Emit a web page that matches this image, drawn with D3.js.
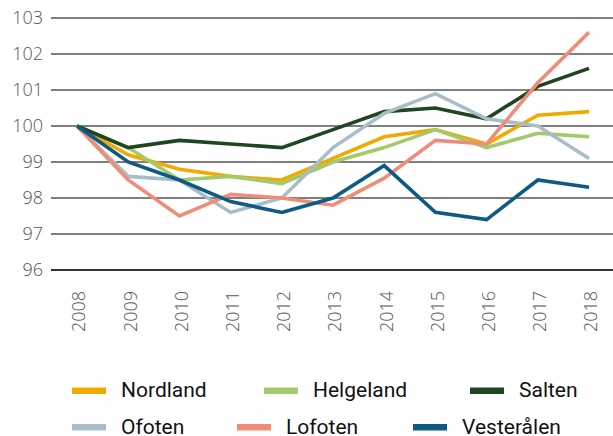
<!DOCTYPE html>
<html>
<head>
<meta charset="utf-8">
<script src="https://cdn.jsdelivr.net/npm/d3@7"></script>
<style>
  body { margin: 0; background: #fff; }
  svg { display: block; }
  .tick-label { font-family: "Open Sans", sans-serif; font-weight: 300; font-size: 18px; fill: #555; }
  .legend-label { font-family: Roboto, sans-serif; font-size: 21px; fill: #111; }
</style>
</head>
<body>
<svg width="613" height="436"></svg>
<script>
// years on the x axis
var years = [2008, 2009, 2010, 2011, 2012, 2013, 2014, 2015, 2016, 2017, 2018];
var yTicks = [96, 97, 98, 99, 100, 101, 102, 103];

// index values, 2008 = 100
var nordland   = [100, 99.2, 98.8, 98.6, 98.5, 99.1, 99.7, 99.9, 99.5, 100.3, 100.4];
var helgeland  = [100, 99.4, 98.5, 98.6, 98.4, 99.0, 99.4, 99.9, 99.4, 99.8, 99.7];
var salten     = [100, 99.4, 99.6, 99.5, 99.4, 99.9, 100.4, 100.5, 100.2, 101.1, 101.6];
var ofoten     = [100, 98.6, 98.5, 97.6, 98.0, 99.4, 100.35, 100.9, 100.2, 100.0, 99.1];
var lofoten    = [100, 98.5, 97.5, 98.1, 98.0, 97.8, 98.55, 99.6, 99.5, 101.2, 102.6];
var vesteralen = [100, 99.0, 98.5, 97.9, 97.6, 98.0, 98.9, 97.6, 97.4, 98.5, 98.3];

var seriesNames = ["Nordland", "Helgeland", "Salten", "Ofoten", "Lofoten", "Vesterålen"];
var seriesColors = ["#f2a900", "#a2c96a", "#1f4620", "#a9bdc8", "#f08c77", "#0d5a85"];
var seriesValues = [nordland, helgeland, salten, ofoten, lofoten, vesteralen];

var svg = d3.select("svg");

var x = d3.scaleLinear().domain([2008, 2018]).range([77, 589]);
var y = d3.scaleLinear().domain([96, 103]).range([270, 18]);

// grid lines
svg.append("g")
  .selectAll("line")
  .data(yTicks)
  .enter().append("line")
    .attr("x1", 51)
    .attr("x2", 613)
    .attr("y1", function(d) { return y(d); })
    .attr("y2", function(d) { return y(d); })
    .attr("stroke", function(d) { return d == 96 ? "#333" : "#555"; })
    .attr("stroke-width", function(d) { return d == 96 ? 2.2 : 1.3; });

// y labels
svg.append("g")
  .selectAll("text")
  .data(yTicks)
  .enter().append("text")
    .attr("class", "tick-label")
    .attr("x", 43)
    .attr("y", function(d) { return y(d); })
    .attr("dy", "0.35em")
    .attr("text-anchor", "end")
    .text(function(d) { return d; });

// x labels, rotated
svg.append("g")
  .selectAll("text")
  .data(years)
  .enter().append("text")
    .attr("class", "tick-label")
    .attr("transform", function(d) { return "translate(" + (x(d) + 2) + ",291) rotate(-90)"; })
    .attr("dy", "0.35em")
    .attr("text-anchor", "end")
    .text(function(d) { return d; });

// lines
var line = d3.line()
  .x(function(d, i) { return x(years[i]); })
  .y(function(d) { return y(d); });

svg.append("g")
  .selectAll("path")
  .data(seriesValues)
  .enter().append("path")
    .attr("d", line)
    .attr("fill", "none")
    .attr("stroke", function(d, i) { return seriesColors[i]; })
    .attr("stroke-width", 3.6)
    .attr("stroke-linejoin", "miter");

// legend, two rows of three
var legendX = [72, 264, 470, 72, 237, 413];
var legendY = [390.7, 390.7, 390.7, 427.2, 427.2, 427.2];

var item = svg.append("g")
  .selectAll("g")
  .data(seriesNames)
  .enter().append("g")
    .attr("transform", function(d, i) { return "translate(" + legendX[i] + "," + legendY[i] + ")"; });

item.append("line")
  .attr("x1", 0).attr("x2", 34)
  .attr("stroke", function(d, i) { return seriesColors[i]; })
  .attr("stroke-width", 6.5);

item.append("text")
  .attr("class", "legend-label")
  .attr("x", 49)
  .attr("dy", "0.32em")
  .text(function(d) { return d; });
</script>
</body>
</html>
